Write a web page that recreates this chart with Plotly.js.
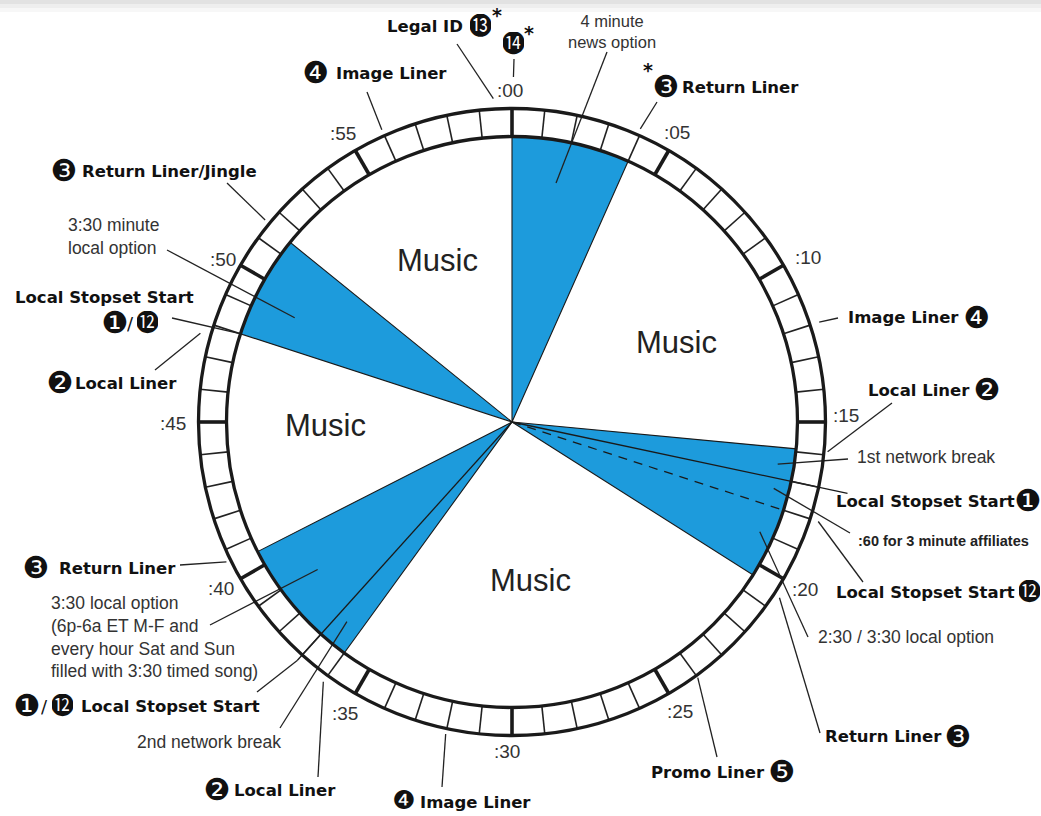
<!DOCTYPE html>
<html><head><meta charset="utf-8">
<script src="https://cdn.plot.ly/plotly-3.0.1.min.js"></script>
<style>html,body{margin:0;padding:0;background:#fff;}#chart{width:1041px;height:816px;}</style>
</head><body><div id="chart"></div>
<script>
// ---------------- data ----------------
// blue segments (minutes past the hour)
const wedgeStart = [0, 15.9, 36, 48];
const wedgeEnd   = [4, 20.4, 40.5, 51.5];
// radial lines from the centre (minute, length, dash)
const radialMinute = [17, 18, 37];
const radialLength = [343, 285, 321];
const radialDash   = ['solid', 'dash', 'solid'];
// minute ring
const ringMinutes = Array.from({length: 60}, (_, i) => i);
const majorEvery = 5;
// minute labels
const minuteLabels = [':00', ':05', ':10', ':15', ':20', ':25', ':30', ':35', ':40', ':45', ':50', ':55'];
// "Music" blocks
const musicText = ['Music', 'Music', 'Music', 'Music'];
// callouts: minute & radius where leader touches the clock
const calloutMinute = [59.45, 0.04, 1.74, 3.94, 12.0, 15.9, 16.5, 17.37, 18.0, 18.98, 20.55, 24, 32, 36, 36.6, 37, 38.8, 40.65, 47.65, 48, 49.27, 51.55, 56];
const calloutRadius = [324, 345, 243, 320, 323, 317, 269, 270, 322, 271, 320, 316, 319, 321, 259, 321, 244, 318, 324, 285, 241, 319, 320];

// ---------------- layout helpers ----------------
const CX = 512, CY = 422, R_OUT = 313.5, R_IN = 285.5;
const BLUE = '#1d9bdc';
function polar(min, r) { const a = min * Math.PI / 30; return [r * Math.sin(a), r * Math.cos(a)]; }
function pix(px, py) { return [px - CX, CY - py]; }

// label end points of the callout leaders (pixel positions of the label side)
const calloutEnd = [[457,44],[514,59],[607,52],[657,102],[838,318],[892,403],[848,459],[850,533],[863,582],[808,637],[820,733],[717,757],[442,787],[318,777],[280,728],[257,692],[210,625],[180,565],[155,370],[172,318],[167,250],[227,183],[367,92]];
const minuteLabelPos = [[510,90],[677,132],[808,257],[846,415],[805,589],[680,711],[507,751],[345,713],[221,588],[173,423],[223,259],[343,133]];
const musicPos = [[437,260],[676,342],[325,425],[530,580]];

const traces = [];
// wedges
wedgeStart.forEach((s, i) => {
  const e = wedgeEnd[i];
  const xs = [0], ys = [0];
  const n = 40;
  for (let k = 0; k <= n; k++) { const p = polar(s + (e - s) * k / n, R_IN); xs.push(p[0]); ys.push(p[1]); }
  xs.push(0); ys.push(0);
  traces.push({type: 'scatter', mode: 'lines', x: xs, y: ys, fill: 'toself', fillcolor: BLUE,
    line: {color: '#1a1a1a', width: 1.1}, hoverinfo: 'skip'});
});
// radial lines
radialMinute.forEach((m, i) => {
  const p = polar(m, radialLength[i]);
  traces.push({type: 'scatter', mode: 'lines', x: [0, p[0]], y: [0, p[1]],
    line: {color: '#1a1a1a', width: 1.3, dash: radialDash[i] === 'dash' ? '9px,7px' : 'solid'}, hoverinfo: 'skip'});
});
// ring dividers
const thinX = [], thinY = [], thickX = [], thickY = [];
ringMinutes.forEach(m => {
  const a = polar(m, R_IN), b = polar(m, R_OUT);
  if (m % majorEvery === 0) { thickX.push(a[0], b[0], null); thickY.push(a[1], b[1], null); }
  else { thinX.push(a[0], b[0], null); thinY.push(a[1], b[1], null); }
});
traces.push({type: 'scatter', mode: 'lines', x: thinX, y: thinY, line: {color: '#222', width: 1.6}, hoverinfo: 'skip'});
traces.push({type: 'scatter', mode: 'lines', x: thickX, y: thickY, line: {color: '#1a1a1a', width: 3.6}, hoverinfo: 'skip'});
// leaders
const lx = [], ly = [];
calloutMinute.forEach((m, i) => {
  const a = polar(m, calloutRadius[i]);
  const b = pix(calloutEnd[i][0], calloutEnd[i][1]);
  lx.push(a[0], b[0], null); ly.push(a[1], b[1], null);
});
traces.push({type: 'scatter', mode: 'lines', x: lx, y: ly, line: {color: '#222', width: 1.3}, hoverinfo: 'skip'});

// ---------------- annotations ----------------
const BOLD = {family: 'DejaVu Sans', size: 16.5, color: '#111'};
const REG = {family: 'Liberation Sans, Arial, sans-serif', size: 17.5, color: '#333'};
const NUMF = {family: 'DejaVu Sans, Noto Sans CJK JP', size: 24, color: '#111'};
const DINGF = {family: 'DejaVu Sans', size: 30, color: '#111'};
const anns = [];
function ann(text, px, py, font, o) {
  const [x, y] = pix(px, py);
  anns.push(Object.assign({x: x, y: y, xref: 'x', yref: 'y', text: text, showarrow: false,
    xanchor: 'left', yanchor: 'middle', font: font}, o || {}));
}
function bold(t, px, py, o) { ann('<b>' + t + '</b>', px, py, BOLD, o); }
function num(t, px, py, sz) {
  const ding = '❶❷❸❹❺'.indexOf(t) >= 0;
  if (ding) ann(t, px, py - 1, sz ? Object.assign({}, DINGF, {size: sz}) : DINGF, {xanchor: 'center', width: 24, height: 25, borderpad: 0});
  else ann(t, px, py, NUMF, {xanchor: 'center', width: 21, height: 24, borderpad: 0});
}
function star(px, py) { ann('<b>*</b>', px, py, {family: 'DejaVu Sans', size: 19, color: '#111'}, {xanchor: 'center', width: 10, height: 14, borderpad: 0}); }
function slash(px, py) { ann('/', px, py, {family: 'DejaVu Sans', size: 18, color: '#111'}, {xanchor: 'center', width: 7, borderpad: 0}); }

// minute labels
minuteLabels.forEach((t, i) => ann(t, minuteLabelPos[i][0], minuteLabelPos[i][1],
  {family: 'Liberation Sans, Arial, sans-serif', size: 19, color: '#333'}, {xanchor: 'center'}));
// music
musicText.forEach((t, i) => ann(t, musicPos[i][0], musicPos[i][1],
  {family: 'Liberation Sans, Arial, sans-serif', size: 31, color: '#222'}, {xanchor: 'center'}));

// top
bold('Legal ID', 465, 26, {xanchor: 'right'}); num('⓭', 480, 26); star(497, 15);
num('⓮', 513, 44); star(529, 33);
ann('4 minute<br>news option', 612, 31, {family: 'Liberation Sans, Arial, sans-serif', size: 16.5, color: '#333'}, {xanchor: 'center', align: 'center'});
star(648, 70); num('❸', 666, 87); bold('Return Liner', 680, 87);
num('❹', 316, 73); bold('Image Liner', 334, 73);
// right side
bold('Image Liner', 846, 317); num('❹', 977, 318);
bold('Local Liner', 866, 390); num('❷', 987, 390);
ann('1st network break', 855, 457, REG);
bold('Local Stopset Start', 834, 501); num('❶', 1028, 501);
ann('<b>:60 for 3 minute affiliates</b>', 856, 541, {family: 'Liberation Sans, Arial, sans-serif', size: 14.5, color: '#222'});
bold('Local Stopset Start', 834, 592); num('⓬', 1029, 592);
ann('2:30 / 3:30 local option', 816, 637, REG);
bold('Return Liner', 823, 736); num('❸', 958, 737);
bold('Promo Liner', 649, 772); num('❺', 782, 772);
// bottom
num('❹', 404, 800, 26); bold('Image Liner', 418, 802);
num('❷', 217, 790); bold('Local Liner', 232, 790);
ann('2nd network break', 135, 742, REG);
// left
num('❶', 27, 706); slash(44, 706);
num('⓬', 62, 706); bold('Local Stopset Start', 79, 706);
ann('3:30 local option<br>(6p-6a ET M-F and<br>every hour Sat and Sun<br>filled with 3:30 timed song)', 49, 637, REG, {align: 'left'});
num('❸', 36, 568); bold('Return Liner', 57, 568);
num('❷', 60, 383); bold('Local Liner', 73, 383);
bold('Local Stopset Start', 13, 297);
num('❶', 115, 323); slash(130, 323); num('⓬', 147, 323);
ann('3:30 minute<br>local option', 113, 236, REG, {xanchor: 'center', align: 'left'});
num('❸', 64, 171); bold('Return Liner/Jingle', 80, 171);

const shapes = [
  {type: 'rect', xref: 'paper', yref: 'paper', x0: 0, x1: 1, y0: 1 - 4/816, y1: 1, fillcolor: '#e2e2e2', line: {width: 0}, layer: 'below'},
  {type: 'rect', xref: 'paper', yref: 'paper', x0: 0, x1: 1, y0: 1 - 8/816, y1: 1 - 4/816, fillcolor: '#eeeeee', line: {width: 0}, layer: 'below'},
  {type: 'rect', xref: 'paper', yref: 'paper', x0: 0, x1: 1, y0: 1 - 12/816, y1: 1 - 8/816, fillcolor: '#f7f7f7', line: {width: 0}, layer: 'below'},
  {type: 'circle', xref: 'x', yref: 'y', x0: -R_OUT, x1: R_OUT, y0: -R_OUT, y1: R_OUT, line: {color: '#1a1a1a', width: 3.3}},
  {type: 'circle', xref: 'x', yref: 'y', x0: -R_IN, x1: R_IN, y0: -R_IN, y1: R_IN, line: {color: '#1a1a1a', width: 3.3}}
];

const layout = {
  width: 1041, height: 816, margin: {l: 0, r: 0, t: 0, b: 0, pad: 0},
  paper_bgcolor: '#fff', plot_bgcolor: '#fff', showlegend: false,
  xaxis: {range: [-512, 529], visible: false, fixedrange: true},
  yaxis: {range: [-394, 422], visible: false, fixedrange: true},
  annotations: anns, shapes: shapes
};
Plotly.newPlot('chart', traces, layout, {staticPlot: true, displayModeBar: false});
</script></body></html>
